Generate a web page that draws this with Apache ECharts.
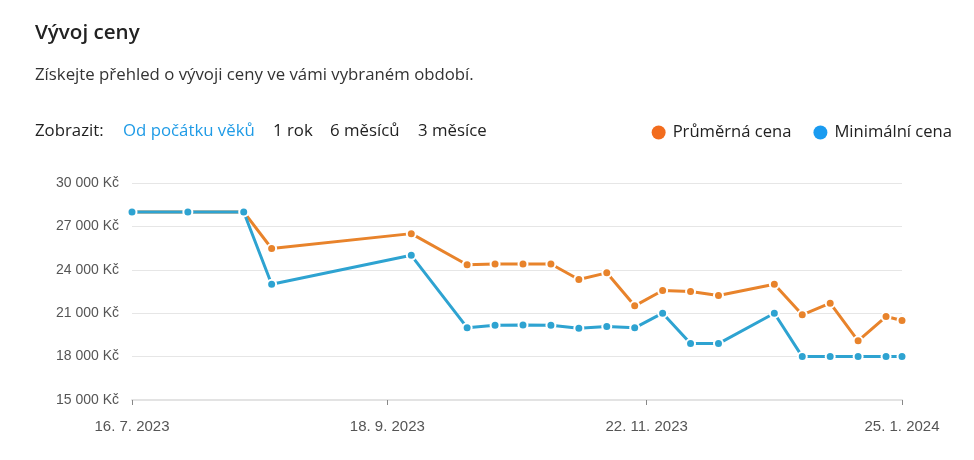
<!DOCTYPE html>
<html>
<head>
<meta charset="utf-8">
<script src="https://cdn.jsdelivr.net/npm/echarts@6/dist/echarts.min.js"></script>
<style>
  html, body { margin: 0; padding: 0; background: #fff; }
  #wrap { position: relative; width: 974px; height: 460px; overflow: hidden; font-family: "Open Sans", "Noto Sans", sans-serif; color: #222; }
  #chart { position: absolute; left: 0; top: 0; width: 974px; height: 460px; }
  .t { position: absolute; white-space: nowrap; line-height: 1; }
  #title { left: 35px; top: 21px; font-size: 20.6px; font-weight: 600; color: #222; }
  #sub { left: 35px; top: 66px; font-size: 16.8px; color: #333; }
  .f { top: 122px; font-size: 16.8px; color: #222; }
  .active { color: #1f9be6; }
</style>
</head>
<body>
<div id="wrap">
  <div id="chart"></div>
  <div class="t" id="title">Vývoj ceny</div>
  <div class="t" id="sub">Získejte přehled o vývoji ceny ve vámi vybraném období.</div>
  <div class="t f" style="left:35px">Zobrazit:</div>
  <div class="t f active" style="left:123px">Od počátku věků</div>
  <div class="t f" style="left:273px">1 rok</div>
  <div class="t f" style="left:330px">6 měsíců</div>
  <div class="t f" style="left:418px">3 měsíce</div>
</div>
<script>
const dates = ['2023-07-16','2023-07-30','2023-08-13','2023-08-20','2023-09-24','2023-10-08','2023-10-15','2023-10-22','2023-10-29','2023-11-05','2023-11-12','2023-11-19','2023-11-26','2023-12-03','2023-12-10','2023-12-24','2023-12-31','2024-01-07','2024-01-14','2024-01-21','2024-01-25'];
const avgPrice = [28000,28000,28000,25470,26500,24350,24400,24400,24400,23330,23790,21510,22570,22500,22220,23000,20890,21690,19090,20770,20490];
const minPrice = [28000,28000,28000,23000,25000,20000,20170,20190,20170,19960,20080,19990,21000,18900,18900,21000,18000,18000,18000,18000,18000];
const tickDates = ['2023-07-16','2023-09-18','2023-11-22','2024-01-25'];
const seriesNames = ['Průměrná cena','Minimální cena'];

function ts(s){ const p = s.split('-').map(Number); return new Date(p[0], p[1]-1, p[2]).getTime(); }
function fmtDate(v){ const d = new Date(v); return d.getDate() + '. ' + (d.getMonth()+1) + '. ' + d.getFullYear(); }
function fmtKc(v){ return String(v).replace(/\B(?=(\d{3})+(?!\d))/g, ' ') + ' Kč'; }

const tickTs = tickDates.map(ts);
const chart = echarts.init(document.getElementById('chart'), null, {renderer: 'canvas'});
const lineColors = ['#e8832b', '#2ea3d1'];
const legendColors = ['#f26c1d', '#1a9bf0'];

chart.setOption({
  animation: false,
  grid: { left: 132, right: 72, top: 183, bottom: 60, containLabel: false },
  legend: {
    right: 17, top: 119, itemGap: 22, itemWidth: 14, itemHeight: 14,
    icon: 'circle',
    textStyle: { fontFamily: '"Open Sans", "Noto Sans", sans-serif', fontSize: 16.6, color: '#222', padding: [0,0,0,2] },
    data: [
      { name: seriesNames[0], itemStyle: { color: legendColors[0], borderWidth: 0 } },
      { name: seriesNames[1], itemStyle: { color: legendColors[1], borderWidth: 0 } }
    ]
  },
  xAxis: {
    type: 'value',
    min: ts(dates[0]),
    max: ts(dates[dates.length-1]),
    axisLine: { lineStyle: { color: '#e3e3e3', width: 2 } },
    axisTick: { show: true, customValues: tickTs, length: 5, lineStyle: { color: '#888', width: 1 } },
    axisLabel: {
      customValues: tickTs, formatter: fmtDate, color: '#555', fontSize: 15,
      fontFamily: 'Liberation Sans, Arial, sans-serif', margin: 19
    },
    splitLine: { show: false }
  },
  yAxis: {
    type: 'value', min: 15000, max: 30000, interval: 3000,
    axisLine: { show: false }, axisTick: { show: false },
    axisLabel: { formatter: fmtKc, color: '#555', fontSize: 14, fontFamily: 'Liberation Sans, Arial, sans-serif', margin: 13 },
    splitLine: { lineStyle: { color: '#e6e6e6', width: 1 } }
  },
  series: [
    {
      name: seriesNames[0], type: 'line', data: dates.map((d,i)=>[ts(d), avgPrice[i]]),
      symbol: 'circle', symbolSize: 9, showSymbol: true,
      lineStyle: { color: lineColors[0], width: 3 },
      itemStyle: { color: lineColors[0], borderColor: '#fff', borderWidth: 2 },
      z: 2
    },
    {
      name: seriesNames[1], type: 'line', data: dates.map((d,i)=>[ts(d), minPrice[i]]),
      symbol: 'circle', symbolSize: 9, showSymbol: true,
      lineStyle: { color: lineColors[1], width: 3 },
      itemStyle: { color: lineColors[1], borderColor: '#fff', borderWidth: 2 },
      z: 3
    }
  ]
});
</script>
</body>
</html>
